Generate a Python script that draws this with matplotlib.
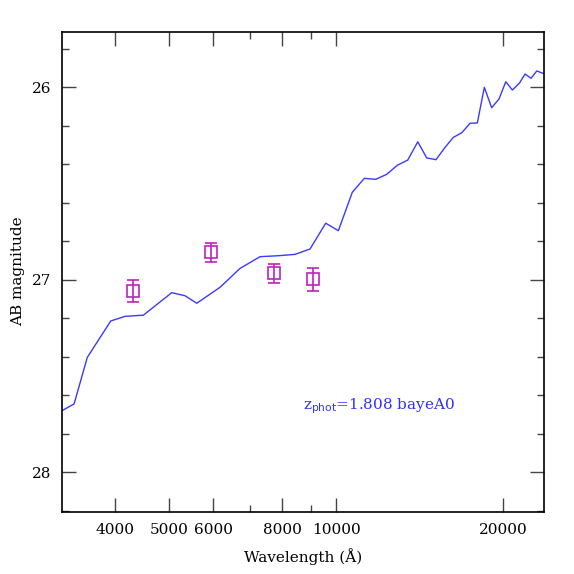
import matplotlib
matplotlib.use("Agg")
import matplotlib.pyplot as plt
from matplotlib.ticker import FixedLocator, FixedFormatter, NullFormatter

# model SED (wavelength in Angstrom, AB mag)
model_wave = [3216, 3371, 3561, 3925, 4165, 4493, 5054, 5341, 5607, 6176,
              6709, 7291, 7865, 8428, 8970, 9574, 10088, 10690, 11236, 11782,
              12331, 12885, 13452, 14025, 14555, 15127, 15704, 16255, 16833, 17418,
              17955, 18484, 19055, 19642, 20203, 20760, 21373, 21886, 22438, 22976,
              23550]
model_mag = [27.678, 27.645, 27.403, 27.214, 27.190, 27.184, 27.067, 27.083, 27.122, 27.039,
             26.941, 26.880, 26.875, 26.868, 26.840, 26.706, 26.745, 26.545, 26.473, 26.478,
             26.452, 26.405, 26.378, 26.283, 26.367, 26.376, 26.312, 26.260, 26.236, 26.187,
             26.185, 26.000, 26.106, 26.061, 25.971, 26.014, 25.979, 25.931, 25.953, 25.915,
             25.927]

# observed photometry
obs_wave = [4310, 5951, 7716, 9072]
obs_mag = [27.057, 26.857, 26.966, 26.997]
obs_err = [0.058, 0.050, 0.049, 0.059]

xtick_major = [4000, 5000, 6000, 8000, 10000, 20000]
xtick_labels = ["4000", "5000", "6000", "8000", "10000", "20000"]
xtick_minor = [7000, 9000]

font = "DejaVu Serif"

fig = plt.figure(figsize=(5.74, 5.74), dpi=100)
ax = fig.add_axes([62.3 / 574, 1 - 511.7 / 574, 481.2 / 574, 480.2 / 574])

ax.plot(model_wave, model_mag, color="#3a3aff", lw=1.0)
ax.errorbar(obs_wave, obs_mag, yerr=obs_err, fmt="s", mfc="none", mec="#c020c0",
            ecolor="#c020c0", ms=8, mew=1.2, elinewidth=1.2, capsize=4.5, capthick=1.2)

ax.set_xscale("log")
ax.set_xlim(3210, 23625)
ax.set_ylim(28.205, 25.710)

ax.xaxis.set_major_locator(FixedLocator(xtick_major))
ax.xaxis.set_major_formatter(FixedFormatter(xtick_labels))
ax.xaxis.set_minor_locator(FixedLocator(xtick_minor))
ax.xaxis.set_minor_formatter(NullFormatter())

ax.yaxis.set_major_locator(FixedLocator([26, 27, 28]))
ax.yaxis.set_minor_locator(FixedLocator([25.8, 26.2, 26.4, 26.6, 26.8, 27.2, 27.4,
                                         27.6, 27.8, 28.2]))

ax.tick_params(which="both", direction="in", top=True, right=True, width=1,
               labelsize=11, color="#444444")
ax.tick_params(which="major", length=10, pad=8)
ax.tick_params(which="minor", length=5)
for lab in ax.get_xticklabels() + ax.get_yticklabels():
    lab.set_family(font)
for s in ax.spines.values():
    s.set_linewidth(1.2)

ax.set_xlabel("Wavelength (Å)", family=font, fontsize=11, labelpad=8)
ax.set_ylabel("AB magnitude", family=font, fontsize=11, labelpad=5)

ax.text(0.50, 0.22, r"z$_{\rm phot}$=1.808 bayeA0", transform=ax.transAxes,
        color="#3030ff", fontsize=11, family=font, va="center", ha="left")

fig.savefig("out.png", dpi=100)
